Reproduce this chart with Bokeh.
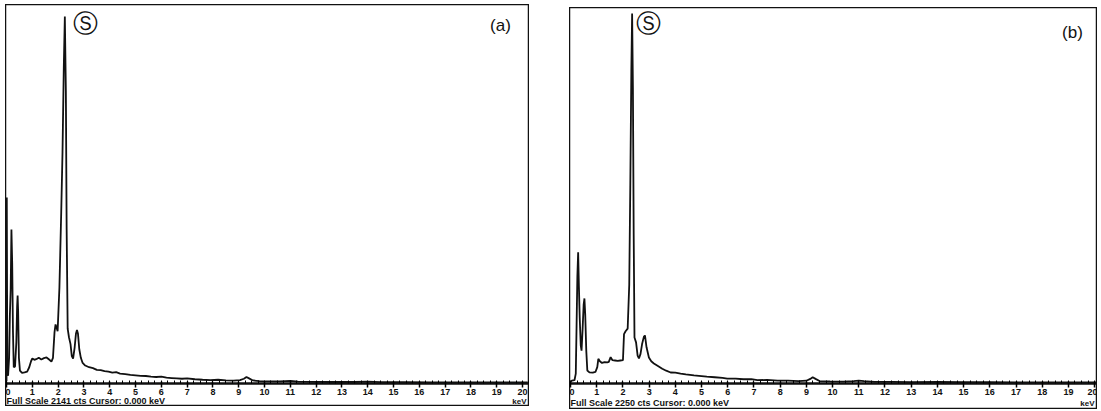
from bokeh.plotting import figure
from bokeh.layouts import row
from bokeh.models import Range1d, Label, SingleIntervalTicker
from bokeh.embed import file_html
from bokeh.resources import INLINE

# ---------------- data ----------------
energy_a = [0.00, 0.01, 0.03, 0.06, 0.10, 0.13, 0.16, 0.19, 0.22, 0.25, 0.28, 0.33, 0.38, 0.41,
            0.43, 0.45, 0.48, 0.52, 0.60, 0.70, 0.80, 0.88, 0.95, 1.00, 1.08, 1.15, 1.25, 1.35,
            1.45, 1.55, 1.65, 1.74, 1.80, 1.86, 1.90, 1.94, 1.98, 2.05, 2.12, 2.17, 2.22, 2.26,
            2.30, 2.33, 2.37, 2.42, 2.48, 2.53, 2.58, 2.64, 2.69, 2.73, 2.77, 2.82, 2.88, 2.95,
            3.05, 3.2, 3.35, 3.5, 3.65, 3.8, 3.95, 4.1, 4.25, 4.4, 4.6, 4.8, 5.0, 5.2, 5.4, 5.6,
            5.8, 6.0, 6.2, 6.4, 6.6, 6.8, 7.0, 7.3, 7.6, 7.9, 8.2, 8.5, 8.8, 9.05, 9.2, 9.3, 9.4,
            9.55, 9.8, 10.2, 10.6, 11.0, 11.3, 11.8, 12.5, 13.5, 14.0, 14.5, 15.5, 16.5, 17.5,
            18.5, 19.5, 20.2]
counts_a = [15, 1085, 60, 45, 150, 400, 545, 898, 700, 300, 95, 100, 240, 450,
            513, 420, 150, 75, 62, 65, 70, 95, 130, 146, 138, 142, 150, 140,
            148, 152, 140, 128, 150, 300, 345, 325, 305, 560, 1000, 1350, 1850, 2141,
            1700, 900, 320, 270, 230, 160, 146, 210, 290, 312, 290, 200, 150, 120,
            105, 95, 90, 80, 78, 72, 70, 64, 66, 58, 55, 50, 48, 45, 44, 40,
            38, 40, 34, 32, 30, 28, 30, 25, 22, 20, 22, 18, 17, 20, 28, 38, 30,
            18, 14, 13, 12, 16, 11, 10, 9, 9, 11, 8, 8, 7, 7,
            6, 6, 6]

energy_b = [0.00, 0.05, 0.15, 0.20, 0.23, 0.26, 0.29, 0.32, 0.35, 0.39, 0.42, 0.46, 0.50, 0.53,
            0.56, 0.60, 0.64, 0.72, 0.85, 0.95, 1.02, 1.06, 1.12, 1.2, 1.3, 1.4, 1.46, 1.53,
            1.6, 1.7, 1.8, 1.9, 2.0, 2.04, 2.1, 2.18, 2.24, 2.28, 2.32, 2.35, 2.38, 2.41, 2.44,
            2.5, 2.56, 2.61, 2.67, 2.73, 2.8, 2.84, 2.9, 2.99, 3.08, 3.18, 3.35, 3.5, 3.65,
            3.82, 4.0, 4.2, 4.4, 4.71, 4.9, 5.2, 5.5, 5.8, 5.98, 6.3, 6.6, 6.9, 7.13, 7.5,
            7.9, 8.3, 8.7, 9.0, 9.15, 9.24, 9.35, 9.5, 9.9, 10.4, 10.8, 11.0, 11.2, 11.6,
            12.3, 13.0, 14.0, 15.0, 16.0, 17.0, 18.0, 19.0, 20.1]
counts_b = [10, 18, 20, 60, 350, 650, 798, 584, 400, 230, 200, 330, 480, 517,
            420, 200, 79, 68, 66, 70, 100, 150, 135, 125, 130, 128, 132, 160,
            142, 140, 138, 140, 142, 300, 318, 334, 600, 1200, 1900, 2250, 1800, 900, 280,
            250, 170, 152, 180, 240, 285, 292, 220, 158, 135, 122, 105, 90, 78,
            67, 66, 60, 55, 49, 47, 42, 38, 34, 30, 30, 26, 27, 20, 22,
            18, 17, 15, 17, 28, 38, 28, 15, 13, 12, 14, 18, 14, 10,
            10, 9, 10, 8, 8, 7, 7, 6, 6]

panel_labels = ["(a)", "(b)"]
full_scale = [2141, 2250]
peak_symbol = "\u24c8"   # circled S
unit_label = "keV"


def make_panel(energy, counts, fs, tag, width, height, xr, yr,
               s_pos, tag_pos, fs_y):
    p = figure(width=width, height=height, x_range=Range1d(*xr), y_range=Range1d(*yr),
               output_backend="svg", toolbar_location=None, min_border=0,
               y_axis_location=None, x_axis_location="below",
               outline_line_color="#111111", outline_line_width=1.5,
               background_fill_color="white", border_fill_color="white")
    p.grid.visible = False
    ax = p.xaxis[0]
    ax.fixed_location = 0
    ax.ticker = SingleIntervalTicker(interval=1, num_minor_ticks=4)
    ax.axis_line_width = 2.5
    ax.axis_line_color = "#111111"
    ax.major_tick_in = 2
    ax.major_tick_out = 4
    ax.major_tick_line_width = 1.5
    ax.minor_tick_in = 3
    ax.minor_tick_out = 0
    ax.major_label_standoff = 1
    ax.major_label_text_font = "Liberation Sans"
    ax.major_label_text_font_size = "9px"
    ax.major_label_text_font_style = "bold"
    ax.major_label_text_color = "#111111"

    p.line(energy, counts, line_color="#111111", line_width=1.8)

    p.add_layout(Label(x=s_pos[0], y=s_pos[1], x_units="screen", y_units="screen",
                       text=peak_symbol, text_font="DejaVu Serif", text_font_size="25px",
                       text_align="center", text_baseline="middle", text_color="#111111"))
    p.add_layout(Label(x=tag_pos[0], y=tag_pos[1], x_units="screen", y_units="screen",
                       text=tag, text_font="Liberation Sans", text_font_size="17px",
                       text_align="center", text_baseline="middle", text_color="#111111"))
    p.add_layout(Label(x=1, y=fs_y, x_units="screen", y_units="screen",
                       text="Full Scale %d cts  Cursor: 0.000 keV" % fs,
                       text_font="Liberation Sans", text_font_size="9px",
                       text_font_style="bold", text_align="left", text_baseline="middle",
                       text_color="#111111"))
    p.add_layout(Label(x=width - 3, y=fs_y - 1, x_units="screen", y_units="screen",
                       text=unit_label, text_font="Liberation Sans", text_font_size="8px",
                       text_font_style="bold", text_align="right", text_baseline="middle",
                       text_color="#111111"))
    return p


pa = make_panel(energy_a, counts_a, full_scale[0], panel_labels[0], 524, 402,
                (-0.04, 20.27), (-134, 2211), (80, 383), (495, 381), 6)
pb = make_panel(energy_b, counts_b, full_scale[1], panel_labels[1], 528, 402,
                (-0.04, 20.11), (-158, 2286), (79, 386), (503, 377), 7)

pa.margin = (4, 0, 0, 5)
pb.margin = (7, 0, 0, 40)

layout = row(pa, pb)
open("out.html", "w").write(file_html(layout, INLINE))
